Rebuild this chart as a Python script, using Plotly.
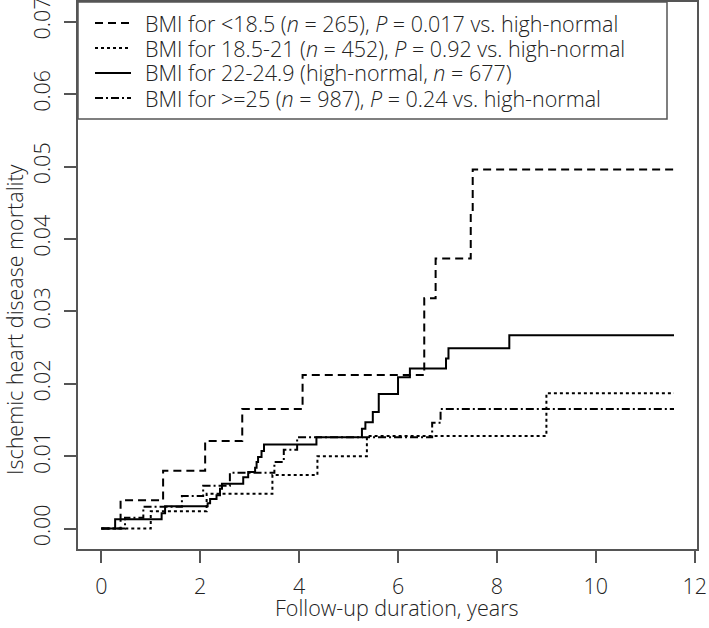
import plotly.graph_objects as go

# ---- data ----
t_low = [0, 0.39, 1.25, 2.10, 2.85, 4.07, 6.53, 6.76, 7.47, 7.51, 11.58]
m_low = [0, 0.0039, 0.0080, 0.0121, 0.0165, 0.0212, 0.0318, 0.0373, 0.0435, 0.0496, 0.0496]

t_lownorm = [0, 1.00, 2.13, 3.46, 4.37, 5.37, 9.00, 11.58]
m_lownorm = [0, 0.0024, 0.0048, 0.0074, 0.0100, 0.0128, 0.0187, 0.0187]

t_highnorm = [0, 0.28, 1.22, 1.29, 2.15, 2.20, 2.33, 2.40, 2.44, 2.87, 2.97, 3.11, 3.14, 3.17,
              3.24, 3.29, 4.35, 5.27, 5.34, 5.49, 5.61, 6.00, 6.24, 6.97, 7.02, 8.25, 11.58]
m_highnorm = [0, 0.0013, 0.0021, 0.0031, 0.0035, 0.0041, 0.0046, 0.0055, 0.0062, 0.0071, 0.0078,
              0.0084, 0.0092, 0.0099, 0.0107, 0.0116, 0.0126, 0.0138, 0.0147, 0.0161, 0.0186,
              0.0209, 0.0221, 0.0235, 0.0249, 0.0267, 0.0267]

t_over = [0, 0.48, 0.85, 1.63, 2.06, 2.60, 3.50, 3.69, 3.96, 6.69, 6.86, 11.58]
m_over = [0, 0.0015, 0.0030, 0.0045, 0.0059, 0.0077, 0.0092, 0.0109, 0.0126, 0.0146, 0.0165, 0.0165]

x_ticks = [0, 2, 4, 6, 8, 10, 12]
y_ticks = [0.00, 0.01, 0.02, 0.03, 0.04, 0.05, 0.06, 0.07]

legend_labels = [
    "BMI for <18.5 (<i>n</i> = 265), <i>P</i> = 0.017 vs. high-normal",
    "BMI for 18.5-21 (<i>n</i> = 452), <i>P</i> = 0.92 vs. high-normal",
    "BMI for 22-24.9 (high-normal, <i>n</i> = 677)",
    "BMI for >=25 (<i>n</i> = 987), <i>P</i> = 0.24 vs. high-normal",
]
dashes = ["8px,5px", "3px,3px", "solid", "8px,3px,2px,3px"]

# ---- layout geometry (pixels) ----
W, H = 709, 628
L, R, T, B = 78, 697, 2, 549
FONT = "Open Sans"
FW = 300
FS = 21.5
TXT = "#222222"
AX = "#555555"

def px(x):
    return (x - L) / (R - L)

def py(y):
    return (B - y) / (B - T)

fig = go.Figure()
series = [(t_low, m_low), (t_lownorm, m_lownorm), (t_highnorm, m_highnorm), (t_over, m_over)]
for (tt, mm), d, lab in zip(series, dashes, legend_labels):
    fig.add_trace(go.Scatter(x=tt, y=mm, mode="lines", line=dict(color="black", width=2, dash=d, shape="hv"),
                             name=lab, showlegend=False, hoverinfo="skip"))

# manual legend (R style box at top-left)
shapes = [dict(type="rect", xref="paper", yref="paper", x0=px(L), x1=px(667), y0=py(119), y1=py(T),
               line=dict(color=AX, width=1.5), fillcolor="white", layer="above")]
annotations = []
rows = [23, 48, 73, 98]
for yy, d, lab in zip(rows, dashes, legend_labels):
    shapes.append(dict(type="line", xref="paper", yref="paper", x0=px(95), x1=px(131), y0=py(yy), y1=py(yy),
                       line=dict(color="black", width=2, dash=d), layer="above"))
    annotations.append(dict(xref="paper", yref="paper", x=px(143), y=py(yy), xanchor="left", yanchor="middle",
                            text=lab, showarrow=False, font=dict(family=FONT, size=FS, color=TXT, weight=FW)))

annotations.append(dict(xref="paper", yref="paper", x=px(397), y=py(607), xanchor="center", yanchor="middle",
                        text="Follow-up duration, years", showarrow=False,
                        font=dict(family=FONT, size=FS, color=TXT, weight=FW)))
annotations.append(dict(xref="paper", yref="paper", x=px(14), y=py(320), xanchor="center", yanchor="middle",
                        text="Ischemic heart disease mortality", textangle=-90, showarrow=False,
                        font=dict(family=FONT, size=FS, color=TXT, weight=FW)))

fig.update_layout(
    width=W, height=H,
    margin=dict(l=L, r=W - R, t=T, b=H - B, autoexpand=False),
    paper_bgcolor="white", plot_bgcolor="white",
    shapes=shapes, annotations=annotations,
    showlegend=False,
)
fig.update_xaxes(range=[-0.471, 12.045], tickvals=x_ticks, ticktext=[str(v) for v in x_ticks],
                 showgrid=False, zeroline=False, showline=True, mirror=True, linecolor=AX, linewidth=1.5,
                 ticks="outside", ticklen=12, tickwidth=1.5, tickcolor=AX, ticklabelstandoff=5, automargin=False,
                 ticklabeloverflow="allow",
                 tickfont=dict(family=FONT, size=FS, color=TXT, weight=FW))
fig.update_yaxes(range=[-0.00282, 0.07272], tickvals=y_ticks, ticktext=[f"{v:.2f}" for v in y_ticks],
                 showgrid=False, zeroline=False, showline=True, mirror=True, linecolor=AX, linewidth=1.5,
                 ticks="outside", ticklen=12, tickwidth=1.5, tickcolor=AX, tickangle=-90, ticklabelstandoff=6,
                 automargin=False, ticklabeloverflow="allow",
                 tickfont=dict(family=FONT, size=FS, color=TXT, weight=FW))

fig.write_html("out.html", config={"displayModeBar": False},
               post_script="document.body.style.margin='0';document.body.style.padding='0';")
